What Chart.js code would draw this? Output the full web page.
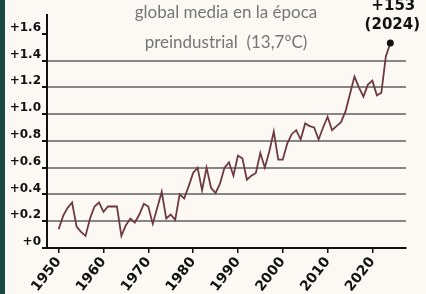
<!DOCTYPE html>
<html>
<head>
<meta charset="utf-8">
<script src="https://cdn.jsdelivr.net/npm/chart.js@4"></script>
<style>
  html, body { margin: 0; padding: 0; background: #fcf9f4; }
</style>
</head>
<body>
<canvas id="chart" width="426" height="294"></canvas>
<script>
// anomalia de temperatura global respecto a la epoca preindustrial
const years = [
  1950, 1951, 1952, 1953, 1954, 1955, 1956, 1957, 1958, 1959,
  1960, 1961, 1962, 1963, 1964, 1965, 1966, 1967, 1968, 1969,
  1970, 1971, 1972, 1973, 1974, 1975, 1976, 1977, 1978, 1979,
  1980, 1981, 1982, 1983, 1984, 1985, 1986, 1987, 1988, 1989,
  1990, 1991, 1992, 1993, 1994, 1995, 1996, 1997, 1998, 1999,
  2000, 2001, 2002, 2003, 2004, 2005, 2006, 2007, 2008, 2009,
  2010, 2011, 2012, 2013, 2014, 2015, 2016, 2017, 2018, 2019,
  2020, 2021, 2022, 2023, 2024
];
const anomaly = [
  0.14, 0.24, 0.30, 0.34, 0.16, 0.12, 0.09, 0.22, 0.31, 0.34,
  0.27, 0.31, 0.31, 0.31, 0.09, 0.17, 0.22, 0.19, 0.25, 0.33,
  0.31, 0.18, 0.30, 0.42, 0.22, 0.25, 0.21, 0.40, 0.37, 0.46,
  0.56, 0.60, 0.43, 0.60, 0.45, 0.41, 0.48, 0.60, 0.64, 0.54,
  0.69, 0.67, 0.51, 0.54, 0.56, 0.71, 0.60, 0.72, 0.87, 0.66,
  0.66, 0.78, 0.85, 0.88, 0.81, 0.93, 0.91, 0.90, 0.81, 0.90,
  0.98, 0.88, 0.91, 0.94, 1.02, 1.15, 1.28, 1.20, 1.13, 1.22,
  1.25, 1.14, 1.16, 1.43, 1.53
];
const yTicks = [0, 0.2, 0.4, 0.6, 0.8, 1.0, 1.2, 1.4, 1.6];
const yTickLabels = ['+0', '+0.2', '+0.4', '+0.6', '+0.8', '+1.0', '+1.2', '+1.4', '+1.6'];
const xTicks = [1950, 1960, 1970, 1980, 1990, 2000, 2010, 2020];
const titleLines = ['global media en la época', 'preindustrial  (13,7°C)'];
const lastLabel = ['+153', '(2024)'];

const lastIdx = anomaly.length - 1;

const decor = {
  id: 'decor',
  beforeDraw(chart) {
    const c = chart.ctx;
    c.save();
    c.fillStyle = '#fcf9f4';
    c.fillRect(0, 0, chart.width, chart.height);
    c.fillStyle = '#1d4a40';
    c.fillRect(0, 0, 5, chart.height);
    c.restore();
  },
  afterDraw(chart) {
    const c = chart.ctx;
    c.save();
    c.textAlign = 'center';
    c.textBaseline = 'middle';
    c.fillStyle = '#767676';
    c.font = '17px Lato';
    c.fillText(titleLines[0], 226, 13);
    c.fillText(titleLines[1], 226, 43);

    const px = chart.scales.x.getPixelForValue(years[lastIdx]);
    c.fillStyle = '#111';
    c.font = 'bold 15px "DejaVu Sans"';
    c.fillText(lastLabel[0], px + 3, 6);
    c.fillText(lastLabel[1], px + 2, 25);
    c.restore();
  }
};

new Chart(document.getElementById('chart'), {
  type: 'line',
  data: {
    datasets: [{
      data: years.map((y, i) => ({ x: y, y: anomaly[i] })),
      borderColor: '#6e3a40',
      borderWidth: 1.8,
      tension: 0,
      pointRadius: ctx => ctx.dataIndex === lastIdx ? 3.5 : 0,
      pointBackgroundColor: '#111',
      pointBorderWidth: 0
    }]
  },
  options: {
    responsive: false,
    animation: false,
    layout: { padding: { top: 15, right: 20, left: 0, bottom: 0 } },
    plugins: { legend: { display: false }, tooltip: { enabled: false } },
    scales: {
      x: {
        type: 'linear',
        min: 1947.4,
        max: 2027.5,
        afterBuildTicks: s => { s.ticks = xTicks.map(v => ({ value: v })); },
        afterFit: s => { s.height = 46; },
        ticks: {
          callback: v => String(v),
          color: '#111',
          font: { family: '"DejaVu Sans"', size: 14, weight: 'bold' },
          minRotation: 52,
          maxRotation: 52,
          padding: 1
        },
        grid: { drawOnChartArea: false, tickColor: '#111', tickLength: 5, lineWidth: 1.5 },
        border: { color: '#111', width: 2 }
      },
      y: {
        min: 0,
        max: 1.74,
        afterBuildTicks: s => { s.ticks = yTicks.map(v => ({ value: v })); },
        afterFit: s => { s.width = 47; },
        ticks: {
          callback: (v, i) => yTickLabels[i],
          color: '#111',
          font: { family: '"DejaVu Sans"', size: 12, weight: 'bold' },
          labelOffset: -6,
          padding: 1
        },
        grid: {
          color: ctx => (ctx.tick && ctx.tick.value > 0.1 && ctx.tick.value < 1.5) ? '#868686' : 'rgba(0,0,0,0)',
          lineWidth: 2,
          tickColor: '#111',
          tickLength: 5
        },
        border: { color: '#111', width: 2 }
      }
    }
  },
  plugins: [decor]
});
</script>
</body>
</html>
